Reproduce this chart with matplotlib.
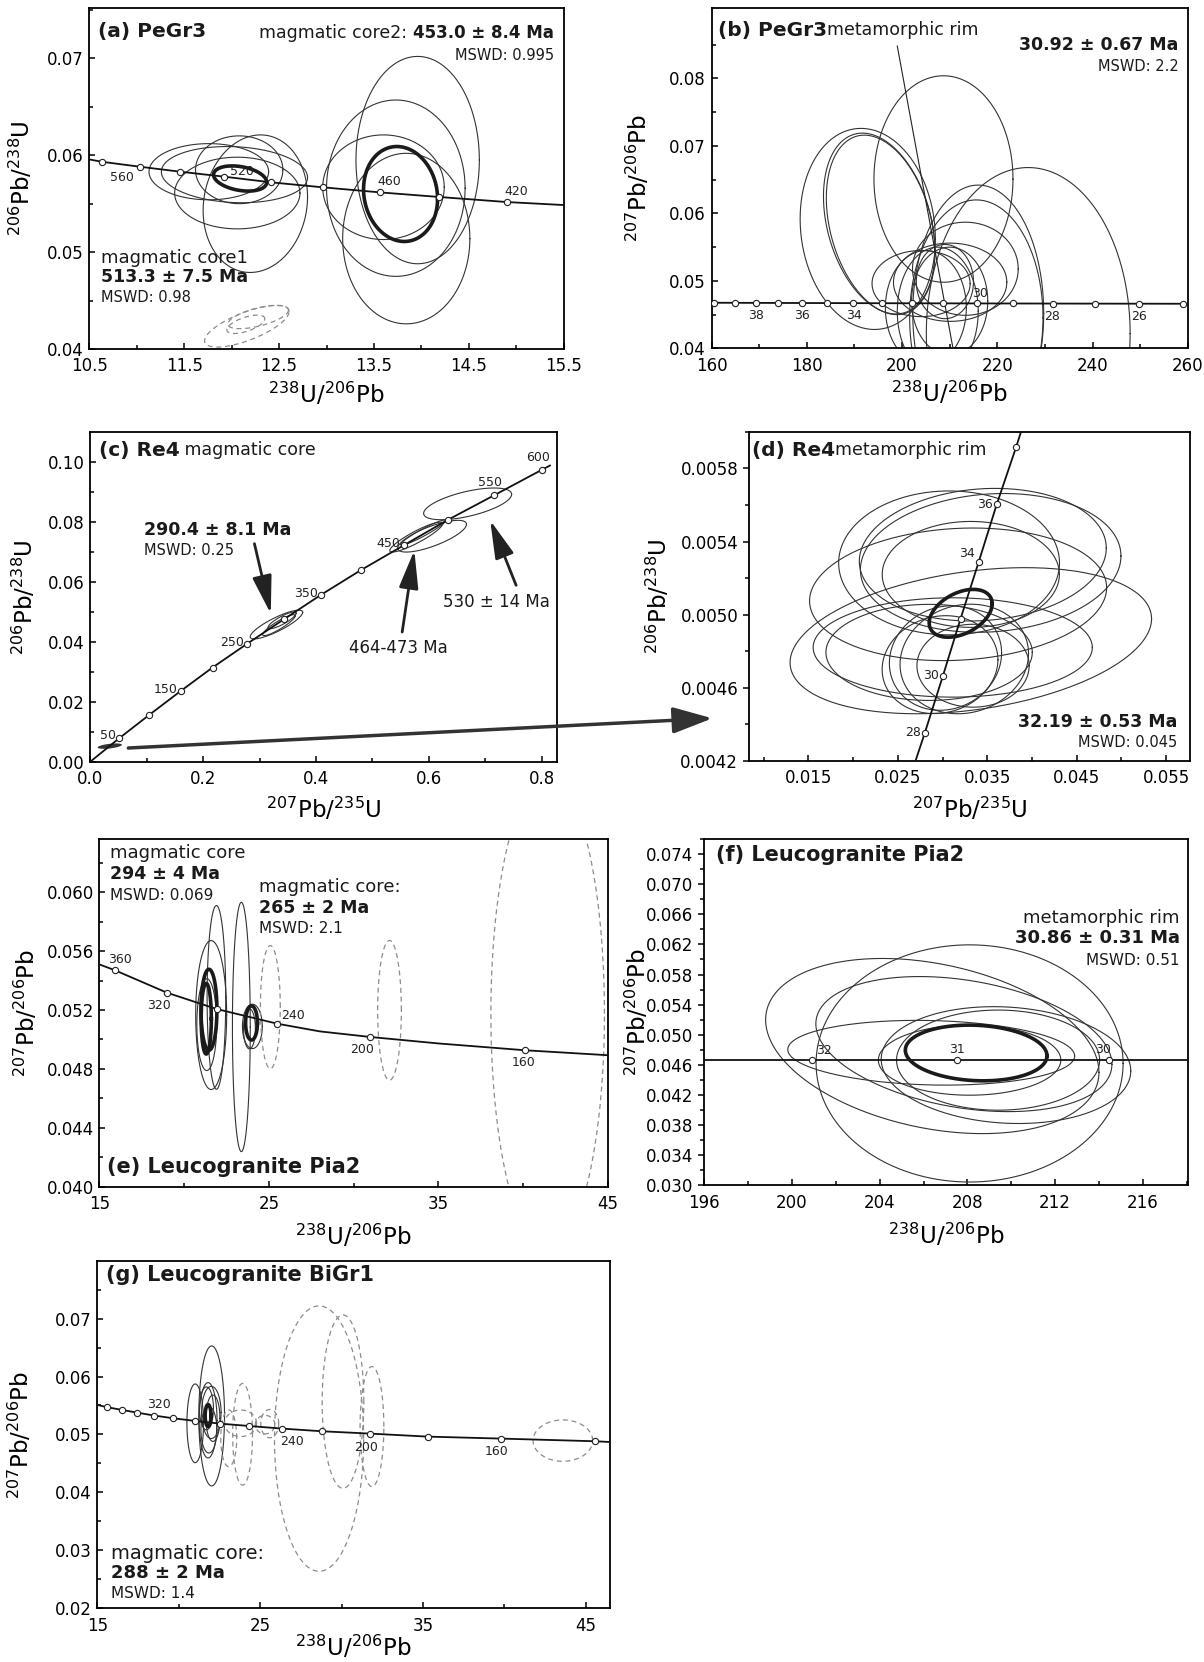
import numpy as np
import matplotlib.pyplot as plt
from matplotlib.patches import ConnectionPatch

plt.rcParams['font.family'] = ['DejaVu Sans']
plt.rcParams['mathtext.fontset'] = 'dejavusans'

# ---------------- data ----------------
# (a) PeGr3, Tera-Wasserburg-like axes 238U/206Pb vs 206Pb/238U
conc_a_x = [10.5, 10.63, 11.03, 11.46, 11.92, 12.42, 12.96, 13.56, 14.19, 14.90, 15.5]
conc_a_y = [0.05957, 0.05933, 0.05882, 0.05830, 0.05779, 0.05720, 0.05669, 0.05617, 0.05569, 0.05517, 0.05486]
mark_a_x = [10.63, 11.03, 11.46, 11.92, 12.42, 12.96, 13.56, 14.19, 14.90]
mark_a_y = [0.05933, 0.05882, 0.05830, 0.05779, 0.05720, 0.05669, 0.05617, 0.05569, 0.05517]
lab_a = ['560', '520', '460', '420']
lab_a_x = [11.03, 11.92, 13.56, 14.90]
lab_a_y = [0.05882, 0.05779, 0.05617, 0.05517]
ell_a_x = [11.76, 12.03, 12.06, 12.08, 12.25, 12.09, 13.96, 13.73, 13.60, 13.84, 13.78, 12.16, 12.28, 12.15]
ell_a_y = [0.0583, 0.0580, 0.0561, 0.0585, 0.0550, 0.0576, 0.0595, 0.0566, 0.0567, 0.0514, 0.0560, 0.04235, 0.0433, 0.04255]
ell_a_sx = [0.63, 0.77, 0.66, 0.46, 0.55, 0.28, 0.65, 0.73, 0.64, 0.67, 0.39, 0.445, 0.32, 0.20]
ell_a_sy = [0.0029, 0.0029, 0.0037, 0.0035, 0.0071, 0.0013, 0.0107, 0.0091, 0.0054, 0.0088, 0.0049, 0.00215, 0.0012, 0.00095]
ell_a_rho = [0.0, -0.1, 0.0, 0.0, 0.1, -0.3, 0.0, 0.0, 0.0, 0.0, -0.1, 0.7, 0.6, 0.6]
ell_a_kind = ['thin'] * 5 + ['thick'] + ['thin'] * 4 + ['thick'] + ['dash'] * 3

# (b) PeGr3 metamorphic rim
conc_b_x = [160.6, 164.9, 169.3, 174.0, 178.9, 184.3, 189.8, 195.7, 202.0, 208.7, 215.8, 223.3, 231.6, 240.5, 249.8, 258.9]
conc_b_y = [0.04676, 0.04675, 0.04674, 0.04673, 0.04672, 0.04671, 0.04670, 0.04669, 0.04668, 0.04667,
            0.04666, 0.04665, 0.04664, 0.04663, 0.04662, 0.04661]
lab_b = ['38', '36', '34', '30', '28', '26']
lab_b_x = [169.3, 178.9, 189.8, 215.8, 231.6, 249.8]
lab_b_y = [0.04674, 0.04672, 0.04670, 0.04666, 0.04664, 0.04662]
lead_b_x = [199.0, 210.7]
lead_b_y = [0.0848, 0.0400]
ell_b_x = [192.8, 195.2, 195.5, 208.7, 226.5, 216.0, 215.6, 213.3, 204.0, 210.1, 205.0, 207.5, 210.0, 209.0]
ell_b_y = [0.0577, 0.0585, 0.0583, 0.0651, 0.0422, 0.0452, 0.0445, 0.0518, 0.0496, 0.0498, 0.0460, 0.0455, 0.0470, 0.0499]
ell_b_sx = [14.2, 11.7, 11.4, 14.6, 21.4, 13.75, 14.0, 11.1, 10.3, 11.9, 8.5, 8.5, 8.0, 6.0]
ell_b_sy = [0.0149, 0.0134, 0.0133, 0.0153, 0.0246, 0.0190, 0.0175, 0.0069, 0.0049, 0.0058, 0.0085, 0.0095, 0.0080, 0.0055]
ell_b_rho = [-0.1, -0.3, -0.3, 0.0, 0.0, 0.0, 0.0, 0.0, 0.0, 0.0, 0.0, 0.0, 0.0, 0.0]

# (c) Re4 magmatic core, Wetherill concordia
conc_c_x = [0.0, 0.0509, 0.1040, 0.1600, 0.2167, 0.2785, 0.3433, 0.4095, 0.4800, 0.5564, 0.6342, 0.7164, 0.8015, 0.815]
conc_c_y = [0.0, 0.00778, 0.01556, 0.02356, 0.03144, 0.03944, 0.04756, 0.05578, 0.06400, 0.07233, 0.08078, 0.08900, 0.09756, 0.0989]
mark_c_x = conc_c_x[1:-1]
mark_c_y = conc_c_y[1:-1]
lab_c = ['50', '150', '250', '350', '450', '550', '600']
lab_c_x = [0.0509, 0.1600, 0.2785, 0.4095, 0.5564, 0.7164, 0.8015]
lab_c_y = [0.00778, 0.02356, 0.03944, 0.05578, 0.07233, 0.08900, 0.09756]
ell_c_x = [0.330, 0.3345, 0.340, 0.578, 0.606, 0.590, 0.669, 0.0345]
ell_c_y = [0.0458, 0.0456, 0.0472, 0.0750, 0.0753, 0.0765, 0.0861, 0.0052]
ell_c_sx = [0.0465, 0.029, 0.025, 0.047, 0.061, 0.040, 0.078, 0.0215]
ell_c_sy = [0.0048, 0.0035, 0.0028, 0.0050, 0.0053, 0.0042, 0.0053, 0.0009]
ell_c_rho = [0.85, 0.9, 0.85, 0.9, 0.75, 0.95, 0.6, 0.5]
ell_c_kind = ['thin'] * 7 + ['fill']
arr_c_tail = [(0.291, 0.0728), (0.553, 0.0433), (0.755, 0.0589)]
arr_c_head = [(0.320, 0.0494), (0.5745, 0.0706), (0.709, 0.0806)]

# (d) Re4 metamorphic rim
conc_d_x = [0.0259, 0.02802, 0.03004, 0.03202, 0.03404, 0.03606, 0.03821, 0.0402]
conc_d_y = [0.00404, 0.004352, 0.004664, 0.004978, 0.005288, 0.005604, 0.005915, 0.00622]
lab_d = ['28', '30', '34', '36']
lab_d_x = [0.02802, 0.03004, 0.03404, 0.03606]
lab_d_y = [0.004352, 0.004664, 0.005288, 0.005604]
ell_d_x = [0.03073, 0.0345, 0.03538, 0.03316, 0.03316, 0.03174, 0.03114, 0.0285, 0.02972, 0.03033, 0.03243, 0.03341, 0.03203]
ell_d_y = [0.005283, 0.005328, 0.005283, 0.00522, 0.004857, 0.005111, 0.00482, 0.004793, 0.004726, 0.004762,
           0.004757, 0.00472, 0.005007]
ell_d_sx = [0.01234, 0.0138, 0.01456, 0.0099, 0.0202, 0.0166, 0.0156, 0.01153, 0.00647, 0.00627, 0.00718, 0.00627, 0.00352]
ell_d_sy = [0.000394, 0.000363, 0.00038, 0.00029, 0.0004, 0.000363, 0.000272, 0.000263, 0.000268, 0.000286,
            0.0003, 0.000227, 0.000131]
ell_d_rho = [0.0, 0.1, 0.1, 0.0, 0.3, 0.1, 0.0, 0.0, 0.1, 0.1, 0.1, 0.0, 0.4]
ell_d_kind = ['thin'] * 12 + ['thick']
link_c = (0.0674, 0.00457)
link_d = (0.00428, 0.004432)

# (e) Leucogranite Pia2 cores
conc_e_x = [15.0, 15.94, 18.98, 21.91, 25.50, 28.0, 30.98, 35.0, 40.08, 45.0]
conc_e_y = [0.0551, 0.05469, 0.05318, 0.05207, 0.05107, 0.05055, 0.05017, 0.04973, 0.04927, 0.04893]
lab_e = ['360', '320', '', '240', '200', '160']
mark_e_x = [15.94, 18.98, 21.91, 25.50, 30.98, 40.08]
mark_e_y = [0.05469, 0.05318, 0.05207, 0.05107, 0.05017, 0.04927]
ell_e_x = [21.33, 21.59, 21.90, 21.46, 21.30, 23.37, 24.02, 23.97, 23.85, 25.08, 32.11, 41.44]
ell_e_y = [0.05101, 0.05166, 0.05286, 0.05202, 0.05141, 0.05085, 0.05089, 0.05112, 0.05072, 0.0522, 0.05198, 0.05175]
ell_e_sx = [0.586, 0.914, 0.55, 0.47, 0.30, 0.527, 0.586, 0.35, 0.35, 0.586, 0.70, 3.35]
ell_e_sy = [0.00312, 0.00506, 0.00624, 0.00275, 0.0024, 0.00847, 0.00151, 0.00116, 0.00136, 0.00418, 0.00475, 0.01614]
ell_e_kind = ['thin', 'thin', 'thin', 'thick', 'thick', 'thin', 'thin', 'thick', 'thin', 'dash', 'dash', 'dash']

# (f) Leucogranite Pia2 rims
conc_f_x = [195.0, 200.93, 207.52, 214.44, 219.0]
conc_f_y = [0.04663, 0.04663, 0.04663, 0.04663, 0.04663]
lab_f = ['32', '31', '30']
mark_f_x = [200.93, 207.52, 214.44]
mark_f_y = [0.04663, 0.04663, 0.04663]
ell_f_x = [206.4, 208.1, 206.35, 207.84, 209.76, 209.4, 208.1, 208.40]
ell_f_y = [0.0485, 0.04619, 0.04761, 0.04876, 0.04597, 0.04663, 0.04663, 0.04758]
ell_f_sx = [7.6, 7.0, 6.54, 6.75, 5.69, 4.63, 4.16, 3.23]
ell_f_sy = [0.01163, 0.01575, 0.0043, 0.00897, 0.00776, 0.00665, 0.00466, 0.0037]
ell_f_rho = [-0.3, 0.0, -0.1, -0.3, -0.1, 0.0, 0.0, -0.1]
ell_f_kind = ['thin'] * 7 + ['thick']

# (g) Leucogranite BiGr1
conc_g_x = [15.0, 15.61, 16.52, 17.44, 18.50, 19.65, 20.99, 22.51, 24.29, 26.37, 28.81, 31.75, 35.29, 39.80, 45.56, 46.5]
conc_g_y = [0.0551, 0.05470, 0.05423, 0.05377, 0.05326, 0.05280, 0.05234, 0.05188, 0.05147, 0.05101, 0.05055,
            0.05015, 0.04963, 0.04929, 0.04883, 0.0487]
mark_g_x = conc_g_x[1:-1]
mark_g_y = conc_g_y[1:-1]
lab_g = ['320', '240', '200', '160']
lab_g_x = [19.65, 26.37, 31.75, 39.80]
lab_g_y = [0.05280, 0.05101, 0.05015, 0.04929]
ell_g_x = [21.01, 22.02, 21.80, 21.70, 22.00, 22.10, 21.85, 21.80, 23.07, 23.92, 23.80, 25.59, 25.30, 28.62, 30.09, 31.87, 43.60]
ell_g_y = [0.05193, 0.0532, 0.05245, 0.0545, 0.0538, 0.0528, 0.0508, 0.05326, 0.04934, 0.05003, 0.05193, 0.05187,
           0.0517, 0.04929, 0.05567, 0.05136, 0.04894]
ell_g_sx = [0.51, 0.79, 0.55, 0.43, 0.60, 0.43, 0.49, 0.18, 0.49, 0.61, 0.98, 0.55, 0.60, 2.74, 1.28, 0.73, 1.83]
ell_g_sy = [0.00679, 0.01208, 0.0065, 0.0037, 0.0045, 0.0040, 0.0040, 0.0019, 0.0049, 0.00877, 0.0023, 0.00245,
            0.0016, 0.0229, 0.01496, 0.01036, 0.00357]
ell_g_kind = ['thin'] * 7 + ['thick'] + ['dash'] * 9

# tick values / labels
ticks_a_x = [10.5, 11.5, 12.5, 13.5, 14.5, 15.5]
ticks_a_y = [0.04, 0.05, 0.06, 0.07]
ticks_b_x = [160, 180, 200, 220, 240, 260]
ticks_b_y = [0.04, 0.05, 0.06, 0.07, 0.08]
ticks_c_x = [0.0, 0.2, 0.4, 0.6, 0.8]
ticks_c_y = [0.00, 0.02, 0.04, 0.06, 0.08, 0.10]
ticks_d_x = [0.015, 0.025, 0.035, 0.045, 0.055]
ticks_d_y = [0.0042, 0.0046, 0.0050, 0.0054, 0.0058]
ticks_e_x = [15, 25, 35, 45]
ticks_e_y = [0.040, 0.044, 0.048, 0.052, 0.056, 0.060]
ticks_f_x = [196, 200, 204, 208, 212, 216]
ticks_f_y = [0.030, 0.034, 0.038, 0.042, 0.046, 0.050, 0.054, 0.058, 0.062, 0.066, 0.070, 0.074]
ticks_g_x = [15, 25, 35, 45]
ticks_g_y = [0.02, 0.03, 0.04, 0.05, 0.06, 0.07]

U238 = r'$^{238}$U/$^{206}$Pb'
PB206 = r'$^{206}$Pb/$^{238}$U'
PB207 = r'$^{207}$Pb/$^{206}$Pb'
PB235 = r'$^{207}$Pb/$^{235}$U'

STY = {
    'thin': dict(color='#333333', lw=0.8),
    'thick': dict(color='#1a1a1a', lw=2.6),
    'dash': dict(color='#8c8c8c', lw=0.9, ls=(0, (4, 3))),
}


def ellipses(ax, xs, ys, sxs, sys_, rhos, kinds):
    t = np.linspace(0, 2 * np.pi, 300)
    for cx, cy, sx, sy, r, k in zip(xs, ys, sxs, sys_, rhos, kinds):
        x = cx + sx * np.cos(t)
        y = cy + sy * (r * np.cos(t) + np.sqrt(1 - r * r) * np.sin(t))
        if k == 'fill':
            ax.fill(x, y, color='#333333', lw=0, zorder=2)
        else:
            ax.plot(x, y, zorder=5 if k == 'thick' else 2, **STY[k])


def concordia(ax, lx, ly, mx, my):
    ax.plot(lx, ly, color='#111111', lw=1.3, zorder=3)
    ax.plot(mx, my, 'o', ms=4.5, mfc='white', mec='#222222', mew=0.8, zorder=6)


def age_labels(ax, labs, xs, ys, offs, has):
    for s, x, y, o, h in zip(labs, xs, ys, offs, has):
        ax.annotate(s, (x, y), xytext=o, textcoords='offset points', fontsize=9,
                    ha=h, va='center', color='#222222', zorder=7)


def setup(ax, xlim, ylim, xt, xl, xm, yt, yl, ym, xlab, ylab, xlab_y, ylab_x, ydir='in'):
    ax.set_xlim(*xlim)
    ax.set_ylim(*ylim)
    ax.set_xticks(xt, xl)
    ax.set_xticks(xm, minor=True)
    ax.set_yticks(yt, yl)
    ax.set_yticks(ym, minor=True)
    ax.tick_params(axis='x', which='both', direction='in', labelsize=12, pad=6, width=1.1)
    ax.tick_params(axis='y', which='both', direction=ydir, labelsize=12, pad=4, width=1.1)
    ax.tick_params(which='major', length=4)
    ax.tick_params(which='minor', length=3)
    for sp in ax.spines.values():
        sp.set_linewidth(1.3)
    ax.set_xlabel(xlab, fontsize=16.5, va='center')
    ax.xaxis.set_label_coords(0.5, xlab_y)
    ax.set_ylabel(ylab, fontsize=16.5, va='center')
    ax.yaxis.set_label_coords(ylab_x, 0.5)


def txt(ax, x, y, s, size, bold=False, ha='left'):
    return ax.text(x, y, s, transform=ax.transAxes, fontsize=size, ha=ha, va='center',
                   fontweight='bold' if bold else 'normal', color='#1a1a1a', zorder=8)


def pair(ax, x, y, bold, normal, bsize, nsize, right=False):
    if right:
        t = txt(ax, x, y, bold, bsize, True, 'right')
        ax.annotate(normal, xy=(0, 0.5), xycoords=t, fontsize=nsize, ha='right', va='center', color='#1a1a1a')
    else:
        t = txt(ax, x, y, bold, bsize, True, 'left')
        ax.annotate(normal, xy=(1, 0.5), xycoords=t, fontsize=nsize, ha='left', va='center', color='#1a1a1a')


fig = plt.figure(figsize=(12.04, 16.62), dpi=100)

# ---------------- (a) ----------------
ax_a = fig.add_axes([0.0741, 0.790, 0.3942, 0.2052])
ellipses(ax_a, ell_a_x, ell_a_y, ell_a_sx, ell_a_sy, ell_a_rho, ell_a_kind)
concordia(ax_a, conc_a_x, conc_a_y, mark_a_x, mark_a_y)
age_labels(ax_a, lab_a, lab_a_x, lab_a_y, [(-4, -8), (4, 3.5), (-2, 7.5), (-2, 7.5)],
           ['right', 'left', 'left', 'left'])
setup(ax_a, (10.5, 15.5), (0.04, 0.0752), ticks_a_x, ['10.5', '11.5', '12.5', '13.5', '14.5', '15.5'],
      [11, 12, 13, 14, 15], ticks_a_y, ['0.04', '0.05', '0.06', '0.07'], [0.045, 0.055, 0.065, 0.075],
      U238, PB206, -0.132, -0.143)
txt(ax_a, 0.019, 0.930, '(a) PeGr3', 14.5, True)
pair(ax_a, 0.979, 0.927, '453.0 ± 8.4 Ma', 'magmatic core2: ', 12, 12.5, right=True)
txt(ax_a, 0.979, 0.862, 'MSWD: 0.995', 10.5, ha='right')
txt(ax_a, 0.024, 0.267, 'magmatic core1', 13)
txt(ax_a, 0.024, 0.211, '513.3 ± 7.5 Ma', 12.5, True)
txt(ax_a, 0.024, 0.150, 'MSWD: 0.98', 10.5)

# ---------------- (b) ----------------
ax_b = fig.add_axes([0.591, 0.7904, 0.3955, 0.2046])
ellipses(ax_b, ell_b_x, ell_b_y, ell_b_sx, ell_b_sy, ell_b_rho, ['thin'] * len(ell_b_x))
ax_b.plot(lead_b_x, lead_b_y, color='#222222', lw=0.8, zorder=3)
concordia(ax_b, conc_b_x, conc_b_y, conc_b_x, conc_b_y)
age_labels(ax_b, lab_b, lab_b_x, lab_b_y, [(0, -9), (0, -9), (0, -9), (2, 7), (0, -9), (0, -9)],
           ['center'] * 6)
setup(ax_b, (160, 260), (0.04, 0.0904), ticks_b_x, [str(v) for v in ticks_b_x], [170, 190, 210, 230, 250],
      ticks_b_y, ['0.04', '0.05', '0.06', '0.07', '0.08'], [0.045, 0.055, 0.065, 0.075, 0.085],
      U238, PB207, -0.132, -0.153)
pair(ax_b, 0.014, 0.936, '(b) PeGr3', 'metamorphic rim', 14.5, 12.5)
txt(ax_b, 0.981, 0.892, '30.92 ± 0.67 Ma', 12.5, True, 'right')
txt(ax_b, 0.981, 0.828, 'MSWD: 2.2', 10.5, ha='right')

# ---------------- (c) ----------------
ax_c = fig.add_axes([0.075, 0.5417, 0.3874, 0.1982])
ellipses(ax_c, ell_c_x, ell_c_y, ell_c_sx, ell_c_sy, ell_c_rho, ell_c_kind)
concordia(ax_c, conc_c_x, conc_c_y, mark_c_x, mark_c_y)
age_labels(ax_c, lab_c, lab_c_x, lab_c_y, [(-2.5, 2), (-2.5, 1), (-2.5, 1), (-2.5, 1), (-2.5, 1), (-3, 9), (-3, 9)],
           ['right', 'right', 'right', 'right', 'right', 'center', 'center'])
for tail, head in zip(arr_c_tail, arr_c_head):
    ax_c.annotate('', xy=head, xytext=tail,
                  arrowprops=dict(arrowstyle='-|>,head_length=1.3,head_width=0.33', mutation_scale=18,
                                  lw=2.0, color='#222222', shrinkA=0, shrinkB=0), zorder=6)
setup(ax_c, (0, 0.827), (0, 0.11), ticks_c_x, ['0.0', '0.2', '0.4', '0.6', '0.8'], [0.1, 0.3, 0.5, 0.7],
      ticks_c_y, ['0.00', '0.02', '0.04', '0.06', '0.08', '0.10'], [0.01, 0.03, 0.05, 0.07, 0.09],
      PB235, PB206, -0.146, -0.141)
pair(ax_c, 0.018, 0.946, '(c) Re4', ' magmatic core', 14.5, 12.5)
txt(ax_c, 0.116, 0.703, '290.4 ± 8.1 Ma', 12.5, True)
txt(ax_c, 0.116, 0.641, 'MSWD: 0.25', 10.5)
txt(ax_c, 0.66, 0.344, '464-473 Ma', 12, ha='center')
txt(ax_c, 0.871, 0.486, '530 ± 14 Ma', 12, ha='center')

# ---------------- (d) ----------------
ax_d = fig.add_axes([0.6223, 0.5423, 0.3664, 0.1978])
ellipses(ax_d, ell_d_x, ell_d_y, ell_d_sx, ell_d_sy, ell_d_rho, ell_d_kind)
concordia(ax_d, conc_d_x, conc_d_y, conc_d_x, conc_d_y)
age_labels(ax_d, lab_d, lab_d_x, lab_d_y, [(-2.5, 0), (-2.5, 0), (-2.5, 6), (-2.5, 0)], ['right'] * 4)
setup(ax_d, (0.0084, 0.0577), (0.0042, 0.0060), ticks_d_x, ['0.015', '0.025', '0.035', '0.045', '0.055'],
      [0.01, 0.02, 0.03, 0.04, 0.05], ticks_d_y, ['0.0042', '0.0046', '0.0050', '0.0054', '0.0058'],
      [0.0044, 0.0048, 0.0052, 0.0056, 0.0060], PB235, PB206, -0.149, -0.206, ydir='out')
pair(ax_d, 0.006, 0.945, '(d) Re4', 'metamorphic rim', 14.5, 12.5)
txt(ax_d, 0.970, 0.119, '32.19 ± 0.53 Ma', 12.5, True, 'right')
txt(ax_d, 0.970, 0.055, 'MSWD: 0.045', 10.5, ha='right')

con = ConnectionPatch(xyA=link_c, coordsA=ax_c.transData, xyB=link_d, coordsB=ax_d.transData,
                      arrowstyle='-|>,head_length=1.35,head_width=0.45', mutation_scale=18,
                      lw=2.5, color='#333333', shrinkA=0, shrinkB=0, zorder=10)
fig.add_artist(con)

# ---------------- (e) ----------------
ax_e = fig.add_axes([0.0826, 0.286, 0.4224, 0.209])
ellipses(ax_e, ell_e_x, ell_e_y, ell_e_sx, ell_e_sy, [0.0] * len(ell_e_x), ell_e_kind)
concordia(ax_e, conc_e_x, conc_e_y, mark_e_x, mark_e_y)
age_labels(ax_e, lab_e, mark_e_x, mark_e_y, [(3, 8), (-6, -9), (0, 0), (3, 6), (-6, -9), (-1, -9)],
           ['center', 'center', 'center', 'left', 'center', 'center'])
setup(ax_e, (15, 45), (0.040, 0.0636), ticks_e_x, [str(v) for v in ticks_e_x], [20, 30, 40],
      ticks_e_y, ['0.040', '0.044', '0.048', '0.052', '0.056', '0.060'], [0.042, 0.046, 0.050, 0.054, 0.058, 0.062],
      U238, PB207, -0.144, -0.144)
txt(ax_e, 0.020, 0.960, 'magmatic core', 13)
txt(ax_e, 0.020, 0.899, '294 ± 4 Ma', 12.5, True)
txt(ax_e, 0.020, 0.837, 'MSWD: 0.069', 11)
txt(ax_e, 0.314, 0.864, 'magmatic core:', 13)
txt(ax_e, 0.314, 0.803, '265 ± 2 Ma', 12.5, True)
txt(ax_e, 0.314, 0.744, 'MSWD: 2.1', 11)
txt(ax_e, 0.014, 0.058, '(e) Leucogranite Pia2', 15, True)

# ---------------- (f) ----------------
ax_f = fig.add_axes([0.5849, 0.2868, 0.402, 0.2084])
ellipses(ax_f, ell_f_x, ell_f_y, ell_f_sx, ell_f_sy, ell_f_rho, ell_f_kind)
concordia(ax_f, conc_f_x, conc_f_y, mark_f_x, mark_f_y)
age_labels(ax_f, lab_f, mark_f_x, mark_f_y, [(3, 7), (0, 7.5), (-4, 8)], ['left', 'center', 'center'])
setup(ax_f, (196, 218.07), (0.030, 0.076), ticks_f_x, [str(v) for v in ticks_f_x],
      [198, 202, 206, 210, 214, 218], ticks_f_y, ['%.3f' % v for v in ticks_f_y],
      [0.032, 0.036, 0.040, 0.044, 0.048, 0.052, 0.056, 0.060, 0.064, 0.068, 0.072, 0.076],
      U238, PB207, -0.144, -0.139, ydir='out')
txt(ax_f, 0.025, 0.954, '(f) Leucogranite Pia2', 15, True)
txt(ax_f, 0.982, 0.773, 'metamorphic rim', 13, ha='right')
txt(ax_f, 0.982, 0.713, '30.86 ± 0.31 Ma', 13, True, 'right')
txt(ax_f, 0.982, 0.649, 'MSWD: 0.51', 11, ha='right')

# ---------------- (g) ----------------
ax_g = fig.add_axes([0.0809, 0.0323, 0.4258, 0.2092])
ellipses(ax_g, ell_g_x, ell_g_y, ell_g_sx, ell_g_sy, [0.0] * len(ell_g_x), ell_g_kind)
concordia(ax_g, conc_g_x, conc_g_y, mark_g_x, mark_g_y)
age_labels(ax_g, lab_g, lab_g_x, lab_g_y, [(-10, 10), (7, -9.5), (-3, -10), (-3, -9)], ['center'] * 4)
setup(ax_g, (15, 46.5), (0.02, 0.08), ticks_g_x, [str(v) for v in ticks_g_x], [20, 30, 40],
      ticks_g_y, ['0.02', '0.03', '0.04', '0.05', '0.06', '0.07'], [0.025, 0.035, 0.045, 0.055, 0.065, 0.075],
      U238, PB207, -0.112, -0.15)
txt(ax_g, 0.016, 0.959, '(g) Leucogranite BiGr1', 15, True)
txt(ax_g, 0.027, 0.158, 'magmatic core:', 14)
txt(ax_g, 0.027, 0.101, '288 ± 2 Ma', 13, True)
txt(ax_g, 0.027, 0.043, 'MSWD: 1.4', 11)

fig.savefig('out.png', dpi=100)
